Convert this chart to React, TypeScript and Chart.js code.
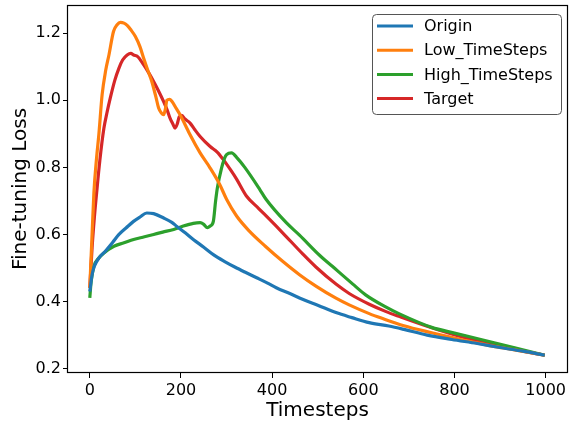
import React, { useEffect, useRef } from "react";
import { Chart, registerables } from "chart.js";

Chart.register(...registerables);

const FONT = "'DejaVu Sans', sans-serif";

const xTicks = [0, 200, 400, 600, 800, 1000];
const yTicks = [0.2, 0.4, 0.6, 0.8, 1.0, 1.2];

const seriesNames = ["Origin", "Low_TimeSteps", "High_TimeSteps", "Target"];
const seriesColors = ["#1f77b4", "#ff7f0e", "#2ca02c", "#d62728"];

const originSteps = [0, 5, 10, 20, 34, 50, 64, 80, 96, 110, 125, 140, 162, 180, 191, 210, 227, 250, 271, 295, 318, 340, 366, 390, 409, 440, 468, 500, 540, 575, 613, 656, 689, 740, 794, 850, 900, 950, 998];
const originLoss = [0.43, 0.48, 0.505, 0.53, 0.55, 0.576, 0.6, 0.62, 0.639, 0.652, 0.664, 0.662, 0.649, 0.636, 0.624, 0.604, 0.585, 0.562, 0.54, 0.52, 0.503, 0.488, 0.471, 0.455, 0.441, 0.423, 0.406, 0.389, 0.367, 0.352, 0.337, 0.327, 0.317, 0.3, 0.287, 0.275, 0.263, 0.252, 0.24];

const lowSteps = [0, 5, 9, 15, 20, 27, 35, 42, 52, 60, 67, 75, 82, 90, 100, 110, 118, 127, 136, 145, 151, 157, 162, 166, 169, 175, 180, 190, 198, 210, 220, 242, 264, 285, 300, 322, 350, 385, 423, 460, 496, 540, 569, 613, 641, 689, 750, 800, 823, 880, 932, 998];
const lowLoss = [0.44, 0.6, 0.724, 0.83, 0.9, 1.016, 1.09, 1.135, 1.205, 1.225, 1.232, 1.23, 1.223, 1.21, 1.19, 1.16, 1.126, 1.09, 1.056, 1.01, 0.977, 0.962, 0.957, 0.975, 1.0, 1.003, 0.997, 0.975, 0.957, 0.925, 0.897, 0.843, 0.798, 0.749, 0.705, 0.655, 0.61, 0.565, 0.52, 0.48, 0.446, 0.41, 0.39, 0.364, 0.35, 0.328, 0.307, 0.291, 0.284, 0.268, 0.256, 0.24];

const highSteps = [0, 3, 9, 20, 31, 53, 75, 96, 120, 140, 160, 184, 205, 227, 242, 250, 258, 264, 271, 276, 280, 289, 295, 300, 311, 322, 340, 373, 387, 431, 460, 504, 532, 577, 605, 649, 678, 750, 800, 860, 932, 998];
const highLoss = [0.411, 0.46, 0.505, 0.53, 0.545, 0.565, 0.575, 0.585, 0.593, 0.6, 0.607, 0.615, 0.625, 0.633, 0.635, 0.63, 0.62, 0.625, 0.639, 0.7, 0.74, 0.798, 0.825, 0.838, 0.843, 0.83, 0.8, 0.734, 0.704, 0.635, 0.598, 0.538, 0.505, 0.452, 0.42, 0.384, 0.364, 0.323, 0.306, 0.286, 0.262, 0.24];

const targetSteps = [0, 5, 10, 15, 22, 31, 38, 45, 55, 64, 72, 82, 90, 96, 105, 118, 130, 140, 150, 162, 170, 176, 182, 187, 192, 196, 202, 208, 220, 230, 242, 264, 280, 293, 310, 322, 344, 370, 395, 423, 467, 496, 540, 569, 613, 650, 678, 750, 823, 880, 932, 998];
const targetLoss = [0.441, 0.56, 0.65, 0.724, 0.82, 0.917, 0.965, 1.007, 1.06, 1.096, 1.12, 1.135, 1.14, 1.135, 1.13, 1.106, 1.08, 1.056, 1.03, 0.996, 0.97, 0.947, 0.93, 0.917, 0.93, 0.95, 0.955, 0.945, 0.932, 0.913, 0.892, 0.862, 0.845, 0.823, 0.79, 0.765, 0.714, 0.678, 0.644, 0.605, 0.542, 0.503, 0.452, 0.424, 0.392, 0.37, 0.356, 0.322, 0.292, 0.273, 0.257, 0.24];

const allSteps = [originSteps, lowSteps, highSteps, targetSteps];
const allLoss = [originLoss, lowLoss, highLoss, targetLoss];

const framePlugin = {
  id: "frameAndLegend",
  afterDatasetsDraw(chart: any) {
    const { ctx, chartArea } = chart;
    const { left, top, right, bottom } = chartArea;
    ctx.save();
    ctx.strokeStyle = "#000";
    ctx.lineWidth = 1.2;
    ctx.strokeRect(Math.round(left) + 0.5, Math.round(top) + 0.5, Math.round(right - left) - 1, Math.round(bottom - top) - 1);

    // legend
    const bx = 372.5, by = 14.5, bw = 189, bh = 100, r = 4;
    ctx.beginPath();
    ctx.moveTo(bx + r, by);
    ctx.lineTo(bx + bw - r, by);
    ctx.quadraticCurveTo(bx + bw, by, bx + bw, by + r);
    ctx.lineTo(bx + bw, by + bh - r);
    ctx.quadraticCurveTo(bx + bw, by + bh, bx + bw - r, by + bh);
    ctx.lineTo(bx + r, by + bh);
    ctx.quadraticCurveTo(bx, by + bh, bx, by + bh - r);
    ctx.lineTo(bx, by + r);
    ctx.quadraticCurveTo(bx, by, bx + r, by);
    ctx.closePath();
    ctx.fillStyle = "rgba(255,255,255,0.8)";
    ctx.fill();
    ctx.strokeStyle = "#555";
    ctx.lineWidth = 1;
    ctx.stroke();

    ctx.font = `16px ${FONT}`;
    ctx.textBaseline = "middle";
    ctx.textAlign = "left";
    seriesNames.forEach((name, i) => {
      const y = 26 + i * 24.2;
      ctx.strokeStyle = seriesColors[i];
      ctx.lineWidth = 3;
      ctx.beginPath();
      ctx.moveTo(377, y);
      ctx.lineTo(413, y);
      ctx.stroke();
      ctx.fillStyle = "#000";
      ctx.fillText(name, 424, y + 1);
    });
    ctx.restore();
  },
};

export default function App() {
  const ref = useRef<HTMLCanvasElement | null>(null);

  useEffect(() => {
    if (!ref.current) return;
    const datasets = seriesNames.map((name, i) => ({
      label: name,
      data: allSteps[i].map((s, j) => ({ x: s, y: allLoss[i][j] })),
      borderColor: seriesColors[i],
      backgroundColor: seriesColors[i],
      borderWidth: 3.2,
      pointRadius: 0,
      cubicInterpolationMode: "monotone" as const,
      fill: false,
    }));
    const chart = new Chart(ref.current, {
      type: "line",
      data: { datasets },
      options: {
        animation: false,
        responsive: false,
        maintainAspectRatio: false,
        layout: { padding: { top: 5, right: 1, left: 0, bottom: 0 } },
        plugins: { legend: { display: false }, tooltip: { enabled: false } },
        scales: {
          x: {
            type: "linear",
            min: -50,
            max: 1049,
            afterBuildTicks: (s: any) => {
              s.ticks = xTicks.map((v) => ({ value: v }));
            },
            afterFit: (s: any) => {
              s.height = 53;
              s.paddingLeft = 0;
              s.paddingRight = 0;
            },
            ticks: {
              font: { size: 16, family: FONT },
              color: "#000",
              padding: 3,
              maxRotation: 0,
              autoSkip: false,
              callback: (v: any) => String(v),
            },
            grid: { drawOnChartArea: false, tickLength: 5, tickColor: "#000", color: "#000" },
            border: { display: false },
            title: {
              display: true,
              text: "Timesteps",
              color: "#000",
              font: { size: 20, family: FONT },
              padding: { top: 0, bottom: 3 },
            },
          },
          y: {
            type: "linear",
            min: 0.187,
            max: 1.284,
            afterBuildTicks: (s: any) => {
              s.ticks = yTicks.map((v) => ({ value: v }));
            },
            afterFit: (s: any) => {
              s.width = 67;
              s.paddingTop = 0;
              s.paddingBottom = 0;
            },
            ticks: {
              font: { size: 16, family: FONT },
              color: "#000",
              padding: 2,
              autoSkip: false,
              callback: (v: any) => Number(v).toFixed(1),
            },
            grid: { drawOnChartArea: false, tickLength: 4, tickColor: "#000", color: "#000" },
            border: { display: false },
            title: {
              display: true,
              text: "Fine-tuning Loss",
              color: "#000",
              font: { size: 20, family: FONT },
              padding: { top: 9, bottom: 0 },
            },
          },
        },
      },
      plugins: [framePlugin],
    });
    return () => chart.destroy();
  }, []);

  return (
    <div style={{ position: "fixed", left: 0, top: 0, width: 569, height: 426, background: "#fff" }}>
      <canvas ref={ref} width={569} height={426} style={{ width: 569, height: 426, display: "block" }} />
    </div>
  );
}
